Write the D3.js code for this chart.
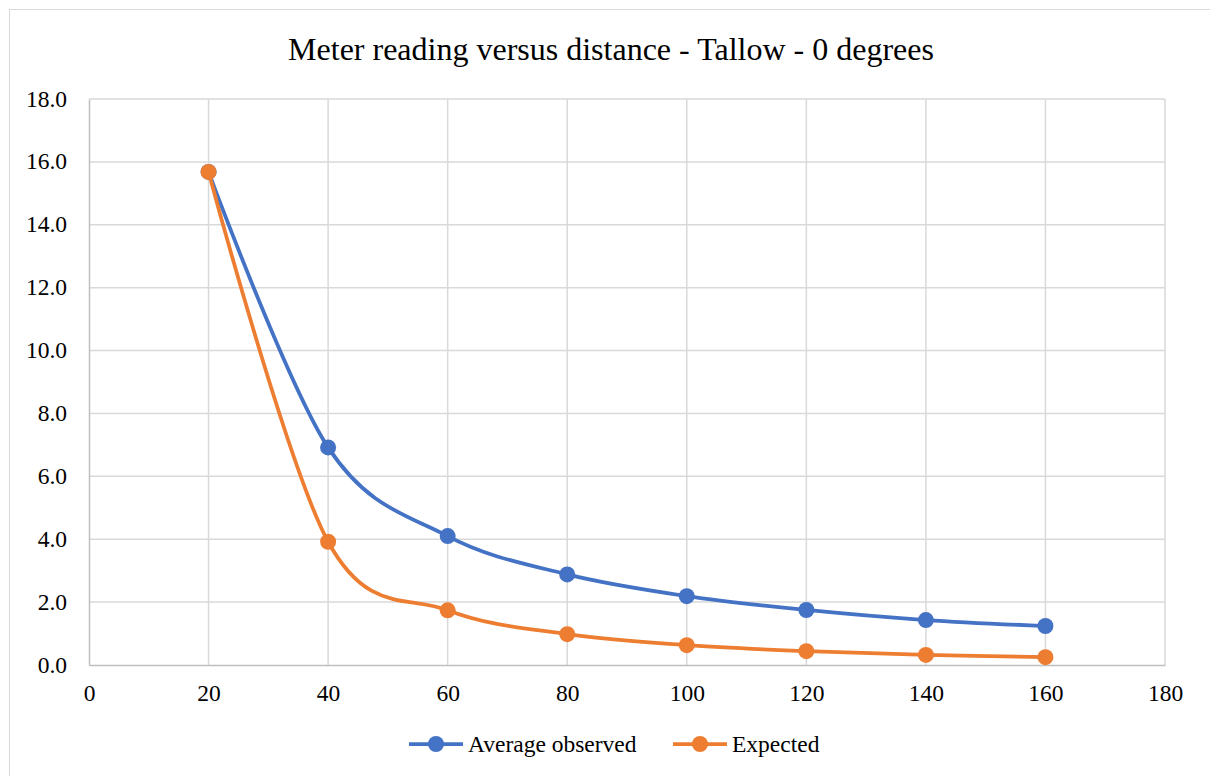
<!DOCTYPE html>
<html>
<head>
<meta charset="utf-8">
<script src="https://cdn.jsdelivr.net/npm/d3@7/dist/d3.min.js"></script>
<style>
  html, body { margin: 0; padding: 0; background: #fff; }
  svg { display: block; }
</style>
</head>
<body>
<svg id="chart" width="1210" height="776" font-family="Liberation Serif"></svg>
<script>
// Distances (x) and meter readings (y)
const distances = [20, 40, 60, 80, 100, 120, 140, 160];
const averageObserved = [15.68, 6.92, 4.10, 2.88, 2.19, 1.75, 1.43, 1.24];
const expected = [15.68, 3.92, 1.74, 0.98, 0.63, 0.44, 0.32, 0.25];
const xTicks = [0, 20, 40, 60, 80, 100, 120, 140, 160, 180];
const yTicks = [0, 2, 4, 6, 8, 10, 12, 14, 16, 18];
const seriesNames = ["Average observed", "Expected"];
const seriesColors = ["#4472c4", "#ed7d31"];
const chartTitle = "Meter reading versus distance - Tallow - 0 degrees";

const FONT = "Liberation Serif";
const LABEL_SIZE = 23.5;

const svg = d3.select("#chart");
const plot = { left: 89, top: 99, right: 1165, bottom: 665 };

// Outer chart frame
svg.append("rect")
  .attr("x", 9.5).attr("y", 9.5)
  .attr("width", 1230).attr("height", 800)
  .attr("fill", "#fff").attr("stroke", "#d9d9d9").attr("stroke-width", 1);

const x = d3.scaleLinear().domain([0, 180]).range([plot.left, plot.right]);
const y = d3.scaleLinear().domain([0, 18]).range([plot.bottom, plot.top]);

// Title
svg.append("text")
  .attr("x", 611).attr("y", 60)
  .attr("text-anchor", "middle")
  .attr("font-family", FONT)
  .attr("font-size", 32)
  .attr("fill", "#000")
  .text(chartTitle);

// Gridlines
const grid = svg.append("g");
grid.selectAll("line.h").data(yTicks.filter(d => d > 0)).join("line")
  .attr("x1", plot.left).attr("x2", plot.right)
  .attr("y1", d => y(d)).attr("y2", d => y(d))
  .attr("stroke", "#d9d9d9").attr("stroke-width", 1.5);
grid.selectAll("line.v").data(xTicks.filter(d => d > 0)).join("line")
  .attr("y1", plot.top).attr("y2", plot.bottom)
  .attr("x1", d => x(d)).attr("x2", d => x(d))
  .attr("stroke", "#d9d9d9").attr("stroke-width", 1.5);

// Axes
const yAxis = svg.append("g")
  .attr("transform", `translate(${plot.left},0)`)
  .call(d3.axisLeft(y).tickValues(yTicks).tickFormat(d3.format(".1f")).tickSize(0).tickPadding(22));
yAxis.attr("font-family", FONT).attr("font-size", LABEL_SIZE);
yAxis.select(".domain").attr("stroke", "#bfbfbf").attr("stroke-width", 1.5);
yAxis.selectAll("text")
  .attr("font-family", FONT).attr("font-size", LABEL_SIZE).attr("fill", "#000")
  .attr("dy", "0.3em");

const xAxis = svg.append("g")
  .attr("transform", `translate(0,${plot.bottom})`)
  .call(d3.axisBottom(x).tickValues(xTicks).tickFormat(d3.format("d")).tickSize(0));
xAxis.attr("font-family", FONT).attr("font-size", LABEL_SIZE);
xAxis.select(".domain").attr("stroke", "#bfbfbf").attr("stroke-width", 1.5);
xAxis.selectAll("text")
  .attr("font-family", FONT).attr("font-size", LABEL_SIZE).attr("fill", "#000")
  .attr("y", 36).attr("dy", 0);

// Series
const line = d3.line()
  .x(d => x(d[0]))
  .y(d => y(d[1]))
  .curve(d3.curveCardinal.tension(0));

[averageObserved, expected].forEach((vals, i) => {
  const pts = distances.map((d, j) => [d, vals[j]]);
  const g = svg.append("g");
  g.append("path")
    .datum(pts)
    .attr("d", line)
    .attr("fill", "none")
    .attr("stroke", seriesColors[i])
    .attr("stroke-width", 3.75)
    .attr("stroke-linejoin", "round")
    .attr("stroke-linecap", "round");
  g.selectAll("circle").data(pts).join("circle")
    .attr("cx", d => x(d[0])).attr("cy", d => y(d[1]))
    .attr("r", 8)
    .attr("fill", seriesColors[i]);
});

// Legend
const legendItems = [
  { x0: 409, tx: 468 },
  { x0: 673, tx: 732 }
];
const legend = svg.append("g");
seriesNames.forEach((name, i) => {
  const it = legendItems[i];
  legend.append("line")
    .attr("x1", it.x0).attr("x2", it.x0 + 54)
    .attr("y1", 744).attr("y2", 744)
    .attr("stroke", seriesColors[i]).attr("stroke-width", 3.75);
  legend.append("circle")
    .attr("cx", it.x0 + 27).attr("cy", 744).attr("r", 8)
    .attr("fill", seriesColors[i]);
  legend.append("text")
    .attr("x", it.tx).attr("y", 752)
    .attr("font-family", FONT)
    .attr("font-size", LABEL_SIZE)
    .attr("fill", "#000")
    .text(name);
});
</script>
</body>
</html>
